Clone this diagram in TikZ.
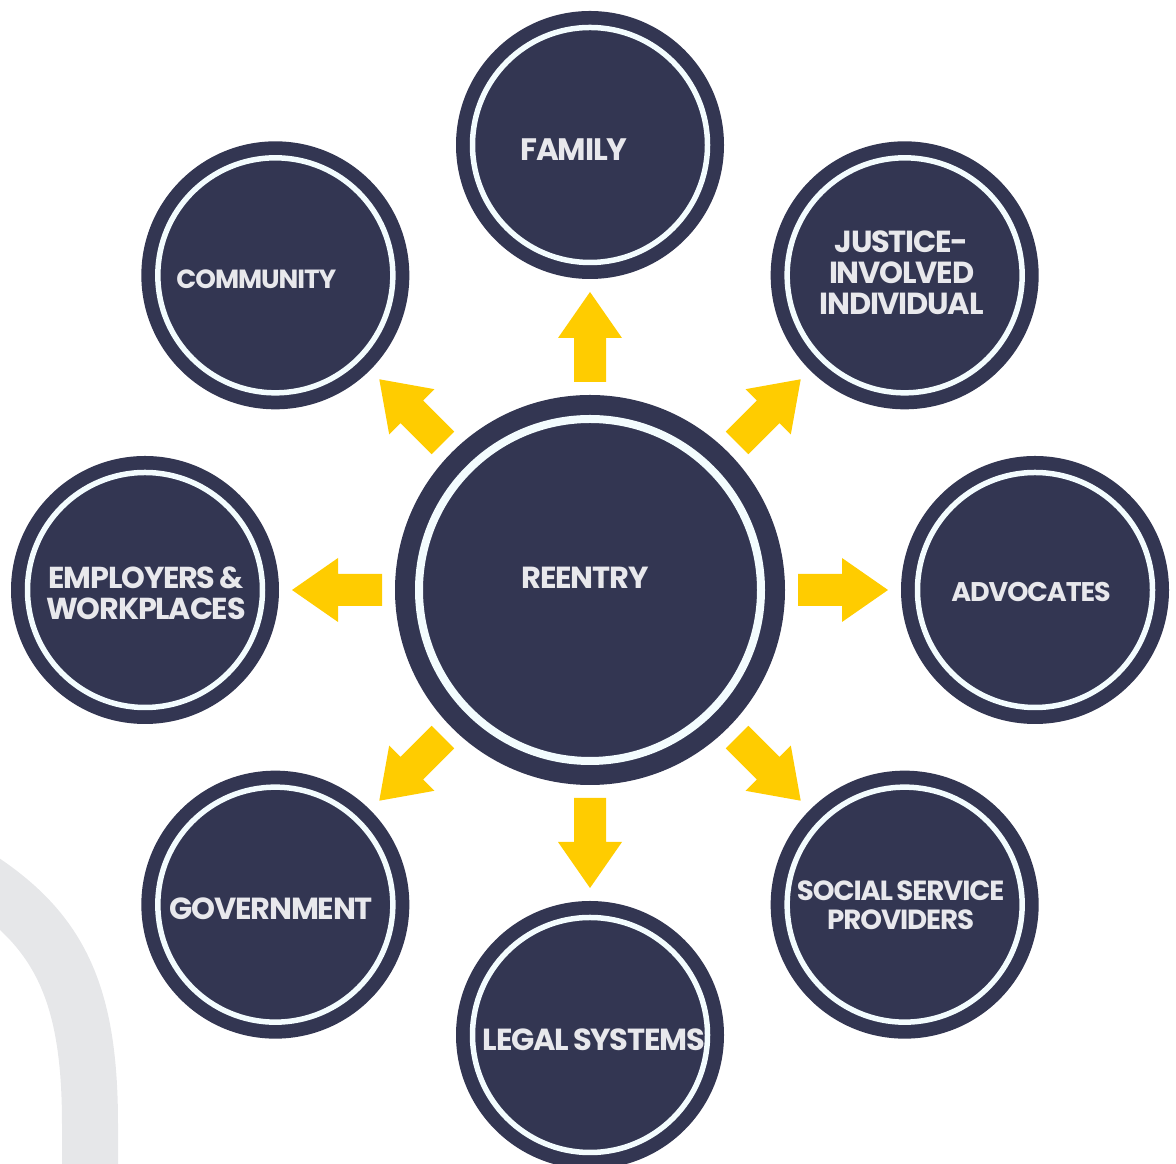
\documentclass[tikz,border=0pt]{standalone}
\usepackage{fontspec}
\setmainfont{Poppins}[LetterSpace=-4.0, WordSpace=0.7]
\usetikzlibrary{calc}

\definecolor{navy}{HTML}{333652}
\definecolor{ringwhite}{HTML}{F3FCFE}
\definecolor{labelgray}{HTML}{E8E8EC}
\definecolor{arrowyellow}{HTML}{FFCC00}
\definecolor{swooshgray}{HTML}{E6E7E9}

\tikzset{
	bubble/.style={circle, fill=navy, inner sep=0pt, outer sep=0pt, minimum size=268pt,
		path picture={\draw [ringwhite, line width=5.5pt] (path picture bounding box.center) circle (117.5pt);}},
	hub/.style={circle, fill=navy, inner sep=0pt, outer sep=0pt, minimum size=390pt,
		path picture={\draw [ringwhite, line width=8pt] (path picture bounding box.center) circle (171pt);}},
	caption/.style={text=labelgray, align=center, inner sep=0pt},
	blockarrow/.style={fill=arrowyellow},
	swoosh/.style={draw=swooshgray, line width=56pt}
}

\begin{document}
\begin{tikzpicture}[x=1pt, y=1pt]
		\useasboundingbox (0,0) rectangle (1176,1164);
		\clip (0,0) rectangle (1176,1164);

		% grey swoosh, bottom left
		\draw [swoosh] (90,-30) -- (90,40) .. controls (90,170) and (60,232) .. (-20,285);

		\node [hub] (reentry) at (590,574) {};
		\node [caption, font=\bfseries\fontsize{30.5}{32}\selectfont] (reentry-text) at ($(reentry)+(-5,12)$) {REENTRY};

		\foreach \name/\ang/\dx/\dy/\fs/\bs/\txt in {
			family/90/-16/-5/31/32/FAMILY,
			justice/45/-3/3/30.5/31/{JUSTICE-\\INVOLVED\\INDIVIDUAL},
			advocates/0/-4/-2/27/30/ADVOCATES,
			social/-45/-4/-1/27.7/29/{SOCIAL SERVICE\\PROVIDERS},
			legal/-90/4/-5/30.5/32/LEGAL SYSTEMS,
			government/-135/-4/-4/30.5/32/GOVERNMENT,
			employers/180/1/-3/30.3/31/{EMPLOYERS \&\\WORKPLACES},
			community/135/-19/-4/26.3/30/COMMUNITY} {
			\node [bubble] (\name) at ($(reentry)+(\ang:445)$) {};
			\node [caption, font=\bfseries\fontsize{\fs}{\bs}\selectfont] (\name-text) at ($(\name)+(\dx,\dy)$) {\txt};
		}

		% yellow block arrows out of the hub
		\foreach \ang in {0,45,...,315} {
			\fill [blockarrow, shift={(reentry.center)}, rotate=\ang]
				(208,-16) -- (252,-16) -- (252,-32) -- (298,0) -- (252,32) -- (252,16) -- (208,16) -- cycle;
		}
	\end{tikzpicture}
\end{document}
